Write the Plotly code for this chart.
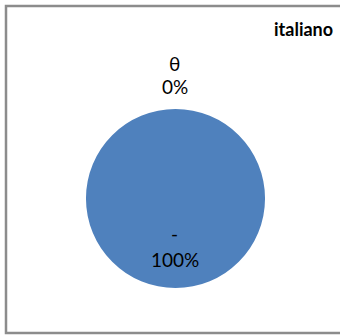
import plotly.graph_objects as go

categories = ["θ", "-"]
values = [0, 100]
title_text = "italiano"

total = sum(values)
percents = [f"{round(v / total * 100)}%" for v in values]

W, H = 340, 336

fig = go.Figure()
fig.add_trace(go.Pie(
    labels=categories,
    values=values,
    sort=False,
    direction="clockwise",
    textinfo="none",
    hoverinfo="label+percent",
    marker=dict(colors=["#C0504D", "#4F81BD"], line=dict(width=0)),
    domain=dict(x=[86 / W, 265 / W], y=[1 - 288 / H, 1 - 109 / H]),
    showlegend=False,
))

font = dict(family="Lato, 'Liberation Sans', sans-serif", size=19, color="#000000")
# label positions (paper px): zero slice above pie, full slice inside lower part
label_pos = [(175, 63, 87), (175, 233, 259)]
annotations = []
for cat, pct, (x, yc, yp) in zip(categories, percents, label_pos):
    annotations.append(dict(x=x / W, y=1 - yc / H, xref="paper", yref="paper",
                            text=cat, showarrow=False, font=font,
                            xanchor="center", yanchor="middle"))
    annotations.append(dict(x=x / W, y=1 - yp / H, xref="paper", yref="paper",
                            text=pct, showarrow=False, font=font,
                            xanchor="center", yanchor="middle"))
annotations.append(dict(x=303 / W, y=1 - 29 / H, xref="paper", yref="paper",
                        text=f"<b>{title_text}</b>", showarrow=False,
                        font=dict(family="Lato, 'Liberation Sans', sans-serif", size=18, color="#000000"),
                        xanchor="center", yanchor="middle"))

fig.update_layout(
    width=W, height=H,
    margin=dict(l=0, r=0, t=0, b=0),
    paper_bgcolor="white",
    plot_bgcolor="white",
    annotations=annotations,
    shapes=[dict(type="rect", xref="paper", yref="paper",
                 x0=6 / W, x1=1.02, y0=1 - 333 / H, y1=1 - 6 / H,
                 line=dict(color="#8c8c8c", width=2.5))],
)

fig.write_html("out.html", config={"displayModeBar": False},
               post_script="document.body.style.margin='0';document.body.style.overflow='hidden';")
